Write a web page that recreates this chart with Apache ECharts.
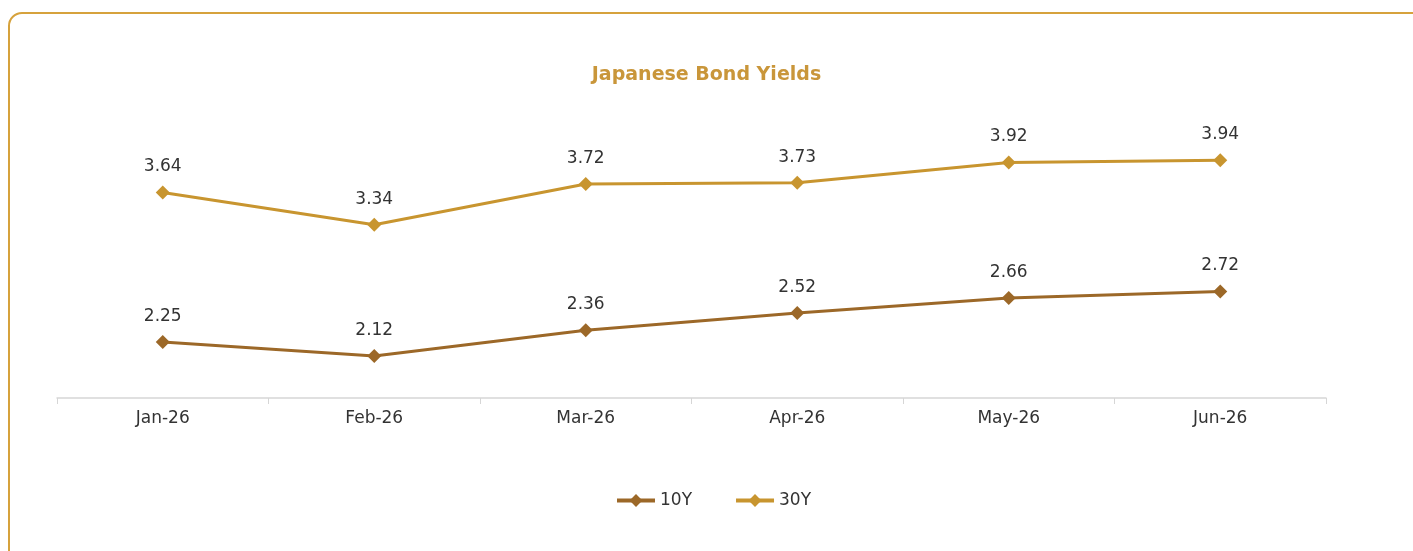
<!DOCTYPE html>
<html>
<head>
<meta charset="utf-8">
<script src="https://cdn.jsdelivr.net/npm/echarts@6/dist/echarts.min.js"></script>
<style>
	html, body { margin: 0; padding: 0; background: #fff; }
	.frame {
		position: absolute;
		left: 8px;
		top: 12px;
		width: 1420px;
		height: 560px;
		border: 2px solid #d6a23c;
		border-radius: 14px;
		box-sizing: border-box;
	}
	#chart { position: absolute; left: 0; top: 0; width: 1413px; height: 551px; }
</style>
</head>
<body>
<div class="frame"></div>
<div id="chart"></div>
<script>
const months = ["Jan-26", "Feb-26", "Mar-26", "Apr-26", "May-26", "Jun-26"];
const yield10Y = [2.25, 2.12, 2.36, 2.52, 2.66, 2.72];
const yield30Y = [3.64, 3.34, 3.72, 3.73, 3.92, 3.94];

const chart = echarts.init(document.getElementById("chart"));
const fontFamily = "'DejaVu Sans', sans-serif";

function lineSeries(name, data, color) {
	return {
		name: name,
		type: "line",
		data: data,
		symbol: "diamond",
		symbolSize: 14,
		lineStyle: { width: 3, color: color },
		itemStyle: { color: color },
		label: {
			show: true,
			position: "top",
			distance: 10,
			color: "#333",
			fontSize: 17,
			fontFamily: fontFamily,
		},
	};
}

chart.setOption({
	animation: false,
	title: {
		text: "Japanese Bond Yields",
		left: "center",
		top: 61,
		textStyle: { color: "#c9963a", fontSize: 19, fontWeight: "bold", fontFamily: fontFamily },
	},
	legend: {
		bottom: 37,
		left: 610,
		itemWidth: 38,
		itemHeight: 16,
		itemGap: 42,
		lineStyle: { width: 4 },
		textStyle: { color: "#333", fontSize: 17, fontFamily: fontFamily },
	},
	grid: { left: 57, right: 87, top: 100, bottom: 153 },
	xAxis: {
		type: "category",
		data: months,
		boundaryGap: true,
		axisLine: { lineStyle: { color: "#d6d6d6", width: 1.5 } },
		axisTick: { show: true, length: 6, lineStyle: { color: "#d6d6d6" } },
		axisLabel: { color: "#333", fontSize: 17, margin: 12, fontFamily: fontFamily },
	},
	yAxis: {
		type: "value",
		min: 1.73,
		max: 4.5,
		show: false,
		splitLine: { show: false },
	},
	series: [
		lineSeries("10Y", yield10Y, "#9c6828"),
		lineSeries("30Y", yield30Y, "#c8952f"),
	],
});
</script>
</body>
</html>
